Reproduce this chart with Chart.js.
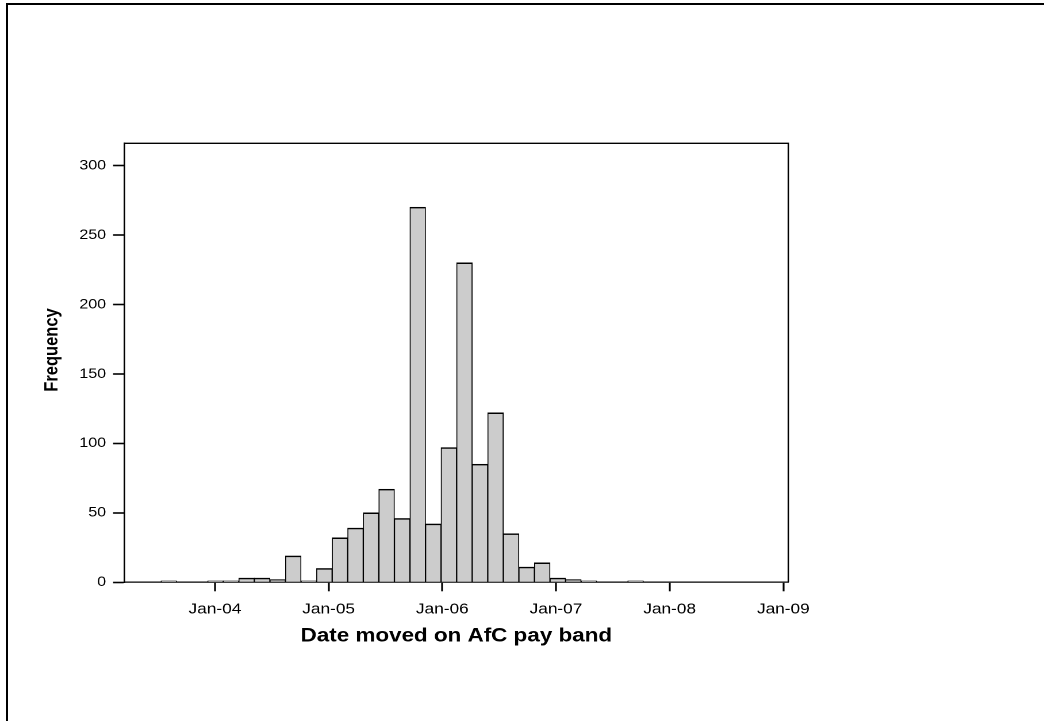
<!DOCTYPE html>
<html>
<head>
<meta charset="utf-8">
<title>Date moved on AfC pay band</title>
<script src="https://cdn.jsdelivr.net/npm/chart.js@4.4.1/dist/chart.umd.min.js"></script>
<style>
  html, body { margin: 0; padding: 0; background: #fff; overflow: hidden; }
  body { width: 1044px; height: 721px; position: relative; }
  .page-frame {
    position: absolute; left: 6px; top: 3px; right: -10px; bottom: -10px;
    border-top: 2px solid #000; border-left: 2px solid #000;
  }
  /* the original picture is stretched sideways, so draw narrow and widen */
  .stretch {
    position: absolute; left: 0; top: 0; width: 908px; height: 721px;
    transform: scaleX(1.1498); transform-origin: 0 0;
  }
</style>
</head>
<body>
<div class="page-frame"></div>
<div class="stretch"><canvas id="histChart" width="908" height="721"></canvas></div>
<script>
// histogram bins: 50-day bins, first bin starts mid 2003 (decimal years)
const binStartYear = 2003.525;
const binWidthYears = 50 / 365.25;
const frequency = [1, 0, 0, 1, 1, 3, 3, 2, 19, 1, 10, 32, 39, 50, 67, 46, 270, 42,
                   97, 230, 85, 122, 35, 11, 14, 3, 2, 1, 0, 0, 1];

const xTickValues = [2004, 2005, 2006, 2007, 2008, 2009];
const xTickLabels = ['Jan-04', 'Jan-05', 'Jan-06', 'Jan-07', 'Jan-08', 'Jan-09'];
const yTickValues = [0, 50, 100, 150, 200, 250, 300];
const xMin = 2003.202, xMax = 2009.044;
const yMin = 0, yMax = 316;
const xTitle = 'Date moved on AfC pay band';
const yTitle = 'Frequency';

Chart.defaults.font.family = "'Liberation Sans', Arial, sans-serif";
Chart.defaults.color = '#000';

// top and right edges of the plot box, plus the y title (sits a bit above centre)
const framePlugin = {
  id: 'frame',
  afterDraw(chart) {
    const { ctx, chartArea: a } = chart;
    ctx.save();
    ctx.strokeStyle = '#000';
    ctx.lineWidth = 1.3;
    ctx.beginPath();
    ctx.moveTo(a.left, a.top);
    ctx.lineTo(a.right, a.top);
    ctx.lineTo(a.right, a.bottom);
    ctx.stroke();

    ctx.translate(45.7, 350);
    ctx.rotate(-Math.PI / 2);
    ctx.font = "bold 16.5px 'Liberation Sans', Arial, sans-serif";
    ctx.fillStyle = '#000';
    ctx.textAlign = 'center';
    ctx.textBaseline = 'middle';
    ctx.fillText(yTitle, 0, 0);
    ctx.restore();
  }
};

const ctx = document.getElementById('histChart').getContext('2d');
new Chart(ctx, {
  type: 'bar',
  data: {
    datasets: [{
      label: yTitle,
      data: frequency.map((f, i) => ({ x: binStartYear + (i + 0.5) * binWidthYears, y: f })),
      backgroundColor: '#cccccc',
      borderColor: '#000',
      borderWidth: { top: 1.5, left: 0.9, right: 0.9, bottom: 0 },
      barPercentage: 1,
      categoryPercentage: 1
    }]
  },
  options: {
    responsive: false,
    animation: false,
    devicePixelRatio: 2,
    layout: { padding: { left: 0, right: 222.4, top: 143.3, bottom: 68.7 } },
    plugins: {
      legend: { display: false },
      tooltip: { enabled: false }
    },
    scales: {
      x: {
        type: 'linear',
        min: xMin,
        max: xMax,
        offset: false,
        afterBuildTicks: s => { s.ticks = xTickValues.map(v => ({ value: v })); },
        afterFit: s => { s.height = 70; },
        ticks: {
          font: { size: 15 },
          color: '#000',
          padding: 9,
          maxRotation: 0,
          autoSkip: false,
          callback: (v, i) => xTickLabels[i]
        },
        grid: { display: true, offset: false, drawOnChartArea: false, drawTicks: true,
                tickLength: 9, tickWidth: 1.6, tickColor: '#000' },
        border: { display: true, color: '#000', width: 1.3 },
        title: {
          display: true,
          text: xTitle,
          font: { size: 19.5, weight: 'bold' },
          color: '#000',
          padding: { top: 4, bottom: 4.6 }
        }
      },
      y: {
        min: yMin,
        max: yMax,
        afterBuildTicks: s => { s.ticks = yTickValues.map(v => ({ value: v })); },
        afterFit: s => { s.width = 108.1; },
        ticks: { font: { size: 14 }, color: '#000', padding: 6 },
        grid: { display: true, drawOnChartArea: false, drawTicks: true,
                tickLength: 9.8, tickWidth: 1.6, tickColor: '#000' },
        border: { display: true, color: '#000', width: 1.3 },
        title: { display: false }
      }
    }
  },
  plugins: [framePlugin]
});
</script>
</body>
</html>
